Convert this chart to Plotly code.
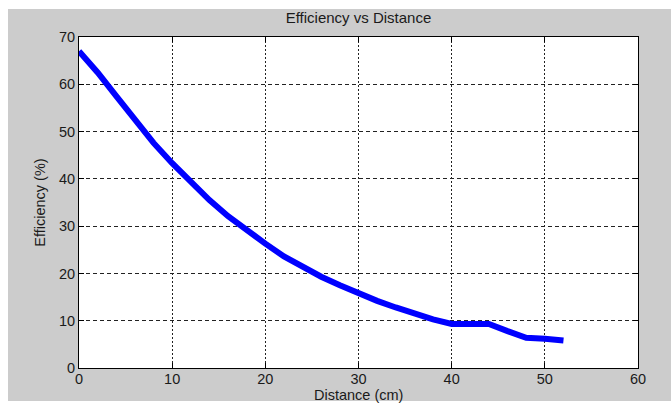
import plotly.graph_objects as go

distance = [0, 2, 4, 6, 8, 10, 12, 14, 16, 18, 20, 22, 24, 26, 28, 30, 32, 34, 36, 38, 40, 42, 44, 46, 48, 50, 52]
efficiency = [67, 62.5, 57.5, 52.3, 47.6, 43.3, 39.2, 35.5, 32.1, 29.0, 26.3, 23.6, 21.3, 19.3, 17.5, 15.8, 14.2, 12.8, 11.5, 10.3, 9.3, 9.3, 9.3, 7.8, 6.4, 6.2, 5.8]

x_ticks = [0, 10, 20, 30, 40, 50, 60]
y_ticks = [0, 10, 20, 30, 40, 50, 60, 70]

fig = go.Figure()
fig.add_trace(go.Scatter(x=distance, y=efficiency, mode="lines",
                         line=dict(color="#0000FF", width=6), showlegend=False))

font = "Liberation Sans, Arial, sans-serif"
txt = "#1a1a1a"
axis_common = dict(showline=True, linecolor="black", linewidth=1, mirror="ticks",
                   ticks="inside", ticklen=5, tickcolor="black", showgrid=True,
                   gridcolor="#222222", gridwidth=1, zeroline=False, automargin=False,
                   tickfont=dict(family=font, size=14.5, color=txt))

fig.update_xaxes(range=[0, 60], tickvals=x_ticks, griddash="2px,2px",
                 ticklabelstandoff=-2, **axis_common)
fig.update_yaxes(range=[0, 70], tickvals=y_ticks, griddash="4px,3px",
                 title=dict(text="Efficiency (%)", standoff=9,
                            font=dict(family=font, size=14.5, color=txt)),
                 **axis_common)

fig.update_layout(
    width=671, height=403,
    margin=dict(l=79, r=33, t=37, b=35),
    paper_bgcolor="#CCCCCC", plot_bgcolor="white",
    title=dict(text="Efficiency vs Distance", x=(79 + 638) / 2 / 671, xanchor="center",
               y=1 - 18 / 403, yanchor="middle",
               font=dict(family=font, size=15, color=txt)),
    annotations=[
        dict(text="Distance (cm)", xref="paper", yref="paper", x=0.5, y=(368 - 395) / 331,
             xanchor="center", yanchor="middle", showarrow=False, borderpad=0,
             font=dict(family=font, size=14.5, color=txt)),
    ],
    shapes=[
        dict(type="rect", xref="paper", yref="paper", x0=-0.2, x1=1.2,
             y0=(368 - 9) / 331, y1=1.3, fillcolor="white", line=dict(width=0), layer="above"),
        dict(type="rect", xref="paper", yref="paper", x0=-0.2, x1=(8 - 79) / 559,
             y0=-0.3, y1=1.3, fillcolor="white", line=dict(width=0), layer="above"),
        dict(type="rect", xref="paper", yref="paper", x0=-0.2, x1=1.2,
             y0=-0.3, y1=(368 - 401) / 331, fillcolor="white", line=dict(width=0), layer="below"),
    ],
)

fig.write_html("out.html")
